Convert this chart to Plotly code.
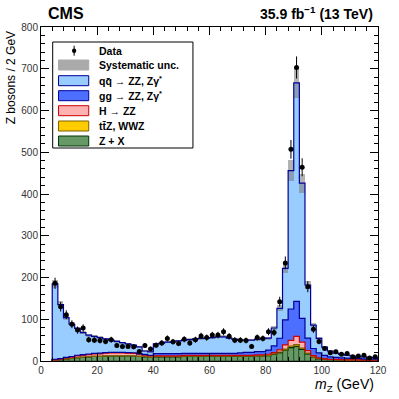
import numpy as np
import plotly.graph_objects as go

# Bin edges of the m_Z histogram (2 GeV bins from 4 to 120 GeV)
edges = np.arange(4, 122, 2)
centers = edges[:-1] + 1

# Observed data per bin
data_counts = [186, 130, 111, 88, 74, 79, 51, 50, 49, 47, 51, 37, 35, 35, 34, 23, 37, 29,
               38, 43, 54, 46, 42, 52, 43, 51, 60, 56, 62, 62, 70, 59, 50, 50, 49, 35, 56, 54,
               70, 68, 142, 235, 507, 703, 464, 178, 76, 47,
               30, 20, 22, 16, 18, 10, 12, 14, 7, 10]
data_err = [13.6, 11.4, 10.5, 9.4, 8.6, 8.9, 7.1, 7.1, 7.0, 6.9, 7.1, 6.1, 5.9, 5.9, 5.8, 4.8, 6.1, 5.4,
            6.2, 6.6, 7.3, 6.8, 6.5, 7.2, 6.6, 7.1, 7.7, 7.5, 7.9, 7.9, 8.4, 7.7, 7.1, 7.1, 7.0, 5.9, 7.5, 7.3,
            8.4, 8.2, 11.9, 15.3, 22.5, 26.5, 21.5, 13.3, 8.7, 6.9,
            5.5, 4.5, 4.7, 4.0, 4.2, 3.2, 3.5, 3.7, 2.6, 3.2]

# Expected backgrounds / signal, bottom of stack first
z_plus_x = [2, 3, 5, 6, 8, 9, 10, 11, 11, 12, 12, 12, 12, 12, 12, 11, 10, 9,
            10, 10, 10, 10, 10, 11, 11, 11, 11, 11, 11, 11, 11, 11, 11, 11, 11, 11, 12, 12,
            13, 16, 20, 26, 32, 35, 28, 17, 9, 5,
            4, 3, 3, 2.5, 2, 2, 2, 1.5, 1.5, 1.5]
ttz_wwz = [0.2, 0.3, 0.3, 0.3, 0.3, 0.3, 0.3, 0.3, 0.3, 0.3, 0.3, 0.3, 0.3, 0.3, 0.3, 0.3, 0.3, 0.3,
           0.5, 0.5, 0.5, 0.5, 0.5, 0.5, 0.5, 0.5, 0.5, 0.5, 0.5, 0.5, 0.5, 0.5, 0.5, 0.5, 0.5, 0.5, 0.5, 0.5,
           0.7, 1, 1.5, 2.5, 3.5, 4, 3, 2, 1, 0.5,
           0.3, 0.3, 0.3, 0.3, 0.3, 0.3, 0.3, 0.3, 0.3, 0.3]
h_zz = [0.5, 1, 2, 3, 4, 4.5, 5, 5.5, 6, 6.5, 7, 7, 7, 6.5, 6, 5, 4, 3,
        2, 2, 2, 2, 2, 2, 2, 2, 2, 2, 2, 2, 2, 2, 2, 2, 2, 2, 2, 2,
        2.5, 3, 5, 10, 14, 20, 14, 6, 3, 2,
        1, 0.8, 0.5, 0.5, 0.5, 0.5, 0.5, 0.5, 0.5, 0.5]
gg_zz = [1.5, 1.5, 1.5, 1.5, 1.5, 1.5, 1.5, 1.5, 1.5, 1.5, 1.5, 1.5, 1.5, 1.5, 1.5, 1.5, 1.5, 1.5,
         5, 5, 5, 5, 5, 5, 5, 5, 5, 5, 5, 5, 5, 5, 5, 6, 7, 7, 8, 8,
         10, 16, 28, 60, 75, 84, 57, 30, 17, 12,
         8, 6, 5, 4, 4, 3.5, 3.5, 3, 3, 3]
qq_zz = [180.7, 129.2, 95.2, 77.2, 64.2, 52.7, 45.2, 40.7, 37.2, 32.7, 29.2, 26.2, 23.2, 20.7, 18.2, 16.2, 8.2, 8.2,
         23.5, 25.5, 27.5, 28.5, 30.5, 31.5, 32.5, 34.5, 35.5, 36.5, 37.5, 39.5, 39.5, 36.5, 33.5, 30.5, 29.5, 29.5, 29.5, 31.5,
         28.8, 43, 71.5, 123.5, 331.5, 523, 324, 127, 56, 34.5,
         19.7, 13.9, 10.2, 8.7, 7.2, 5.7, 4.7, 4.7, 3.7, 2.7]
syst_unc = [10, 8, 6, 5, 4.5, 4, 3.5, 3.5, 3, 3, 3, 3, 2.5, 2.5, 2.5, 2, 1.5, 1.5,
            2.5, 2.5, 2.5, 2.5, 3, 3, 3, 3, 3, 3, 3.5, 3.5, 3.5, 3, 3, 3, 3, 3, 3, 3,
            3.5, 4.5, 7, 12, 25, 37, 23, 10, 5, 3,
            2, 1.5, 1, 1, 1, 0.7, 0.7, 0.6, 0.5, 0.5]

components = [
    ("Z + X", z_plus_x, "#669966", "#003300"),
    ("ttZ, WWZ", ttz_wwz, "#ffcc00", "#806000"),
    ("H -> ZZ", h_zz, "#ffb2b2", "#cc0000"),
    ("gg -> ZZ", gg_zz, "#4d6fff", "#000099"),
    ("qq -> ZZ", qq_zz, "#99ccff", "#000099"),
]

fig = go.Figure()

base = np.zeros(len(centers))
tops = []
for name, vals, fill, edge in components:
    vals = np.array(vals, dtype=float)
    fig.add_trace(go.Bar(
        x=centers, y=vals, base=base, width=2,
        marker=dict(color=fill, line=dict(color=edge, width=0.6 if name == "Z + X" else 0)),
        showlegend=False, hoverinfo="skip"))
    base = base + vals
    tops.append((base.copy(), edge))

# step outlines on top of each stacked histogram
step_x = np.concatenate([[edges[0]], edges, [edges[-1]]])
for top, edge in tops:
    step_y = np.concatenate([[0], top, [top[-1], 0]])
    fig.add_trace(go.Scatter(x=step_x, y=step_y, mode="lines", line_shape="hv",
                             line=dict(color=edge, width=1.2),
                             showlegend=False, hoverinfo="skip"))

total = base
unc = np.array(syst_unc)
fig.add_trace(go.Bar(x=centers, y=2 * unc, base=total - unc, width=2,
                     marker=dict(color="rgba(128,128,128,0.6)", line=dict(width=0)),
                     showlegend=False, hoverinfo="skip"))

fig.add_trace(go.Scatter(x=centers, y=data_counts, mode="markers",
                         marker=dict(color="black", size=5),
                         error_y=dict(type="data", array=data_err, width=0, thickness=1, color="black"),
                         showlegend=False))

W = H = 399
L, T, R, B = 41, 27, 12, 38
pw, ph = W - L - R, H - T - B


def px(x):
    return (x - L) / pw


def py(y):
    return (H - B - y) / ph


shapes = [dict(type="rect", xref="paper", yref="paper", x0=px(53), x1=px(197), y0=py(148), y1=py(42),
               line=dict(color="black", width=1), fillcolor="white", layer="above")]
annotations = []

legend_rows = [
    ("Data", None, None, 50.7),
    ("Systematic unc.", "#aaaaaa", "#aaaaaa", 65),
    ("qq\u0304 \u2192 ZZ, Z\u03b3<sup>*</sup>", "#99ccff", "#000099", 80.7),
    ("gg \u2192 ZZ, Z\u03b3<sup>*</sup>", "#4d6fff", "#000099", 95.7),
    ("H \u2192 ZZ", "#ffb2b2", "#cc0000", 110.7),
    ("tt\u0304Z, WWZ", "#ffcc00", "#806000", 126),
    ("Z + X", "#669966", "#003300", 141),
]
for label, fill, edge, yrow in legend_rows:
    if fill is None:
        shapes.append(dict(type="line", xref="paper", yref="paper", x0=px(75), x1=px(75),
                           y0=py(yrow - 5), y1=py(yrow + 5), line=dict(color="black", width=1), layer="above"))
        shapes.append(dict(type="circle", xref="paper", yref="paper", x0=px(72.8), x1=px(77.2),
                           y0=py(yrow + 2.2), y1=py(yrow - 2.2), fillcolor="black",
                           line=dict(color="black", width=0), layer="above"))
    else:
        shapes.append(dict(type="rect", xref="paper", yref="paper", x0=px(59), x1=px(90),
                           y0=py(yrow + 5), y1=py(yrow - 5), fillcolor=fill,
                           line=dict(color=edge, width=1), layer="above"))
    annotations.append(dict(text="<b>" + label + "</b>", xref="paper", yref="paper",
                            x=px(99), y=py(yrow), xanchor="left", yanchor="middle",
                            showarrow=False, font=dict(size=10.5, color="black")))

annotations += [
    dict(text="<b>CMS</b>", xref="paper", yref="paper", x=px(46), y=py(13), xanchor="left",
         yanchor="middle", showarrow=False, font=dict(size=16, color="black")),
    dict(text="<b>35.9 fb<sup>\u22121</sup> (13 TeV)</b>", xref="paper", yref="paper", x=px(384), y=py(13),
         xanchor="right", yanchor="middle", showarrow=False, font=dict(size=14, color="black")),
    dict(text="Z bosons / 2 GeV", xref="paper", yref="paper", x=px(10), y=py(29), xanchor="center",
         yanchor="top", textangle=-90, showarrow=False, font=dict(size=12, color="black")),
    dict(text="<i>m</i><sub>Z</sub> (GeV)", xref="paper", yref="paper", x=px(385), y=py(385),
         xanchor="right", yanchor="middle", showarrow=False, font=dict(size=14, color="black")),
]

axis_common = dict(showgrid=False, zeroline=False, showline=True, linecolor="black", linewidth=1,
                   mirror="ticks", ticks="inside", ticklen=8, tickcolor="black",
                   tickfont=dict(size=10, color="#333333"))

fig.update_layout(
    width=W, height=H,
    margin=dict(l=L, r=R, t=T, b=B),
    paper_bgcolor="white", plot_bgcolor="white",
    barmode="overlay", bargap=0,
    font=dict(family="Liberation Sans, Arial, sans-serif"),
    xaxis=dict(range=[0, 120], tick0=0, dtick=20,
               minor=dict(dtick=4, ticks="inside", ticklen=4, tickcolor="black"), **axis_common),
    yaxis=dict(range=[0, 800], tick0=0, dtick=100,
               minor=dict(dtick=20, ticks="inside", ticklen=4, tickcolor="black"), **axis_common),
    shapes=shapes,
    annotations=annotations,
)

# drop the default page margin so the 399 px figure sits flush in the 399 px window
fig.write_html("out.html", config={"displayModeBar": False},
               post_script="document.body.style.margin='0';")
